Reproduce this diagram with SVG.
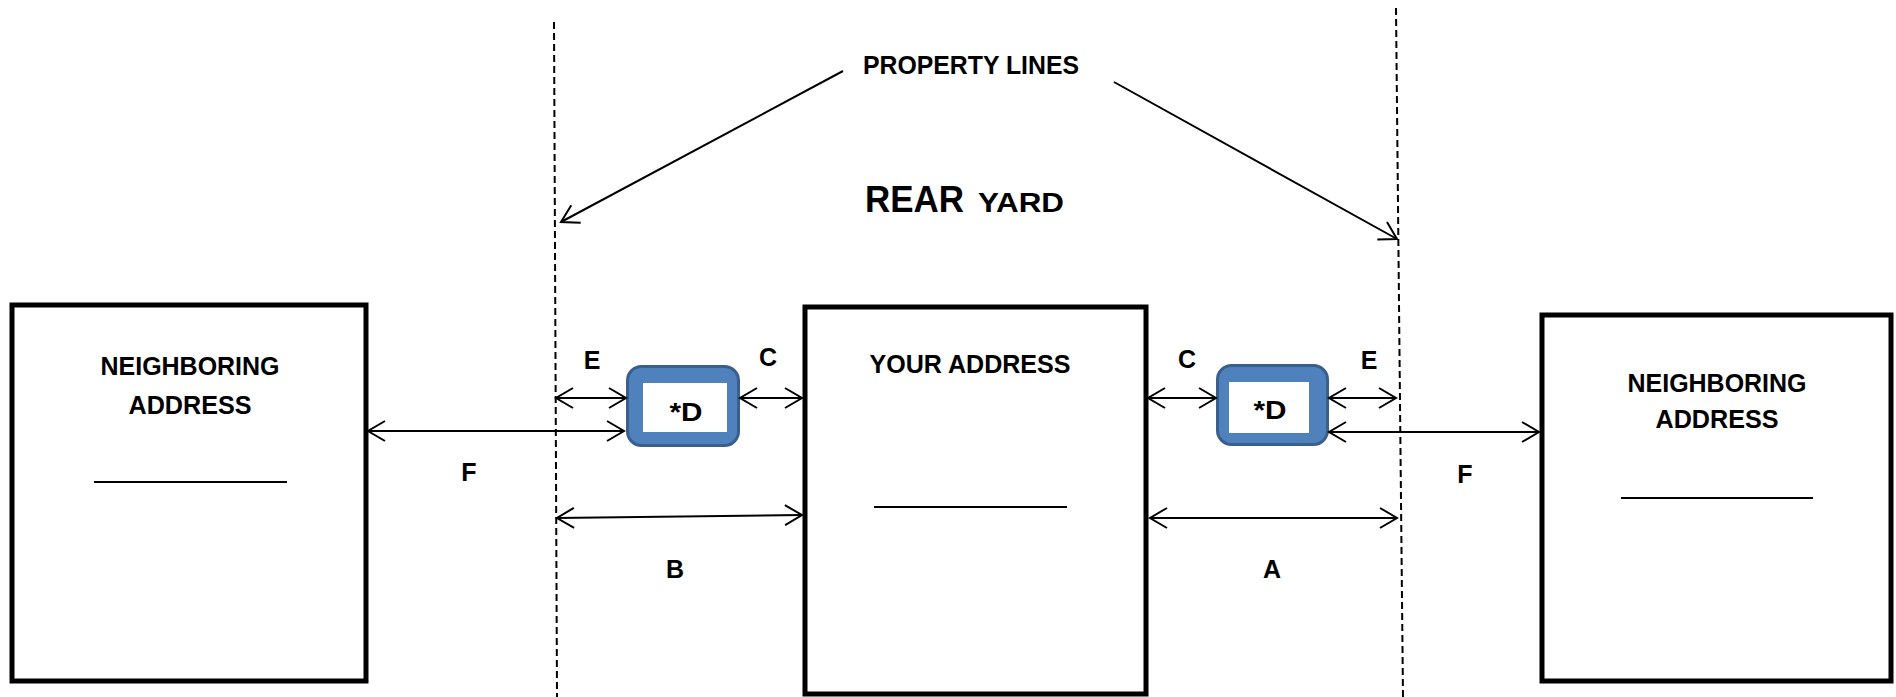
<svg xmlns="http://www.w3.org/2000/svg" width="1896" height="697" viewBox="0 0 1896 697">
<style>
  text { font-family: "Liberation Sans", Arial, sans-serif; font-weight: bold; fill: #000; }
  .lbl { font-size: 25px; text-anchor: middle; }
  .box { fill: #fff; stroke: #000; stroke-width: 5; }
  .ul { stroke: #000; stroke-width: 2; }
  .pl { stroke: #000; stroke-width: 2; stroke-dasharray: 7 4; fill: none; }
  .dim { stroke: #000; stroke-width: 2; fill: none; marker-start: url(#ah); marker-end: url(#ah); }
  .ptr { stroke: #000; stroke-width: 2; fill: none; marker-end: url(#ah); }
  .dout { fill: #4F81BD; stroke: #3A5F8D; stroke-width: 3; }
  .din { fill: #fff; }
</style>
<defs>
  <marker id="ah" markerUnits="userSpaceOnUse" markerWidth="24" markerHeight="24" viewBox="-20 -12 22 24" refX="0" refY="0" orient="auto-start-reverse">
    <path d="M-17,-10 L0,0 L-17,10" fill="none" stroke="#000" stroke-width="2"/>
  </marker>
</defs>
<rect width="1896" height="697" fill="#fff"/>

<g id="property-lines">
  <line class="pl" x1="554" y1="22" x2="557" y2="697"/>
  <line class="pl" x1="1396" y1="8" x2="1403" y2="697"/>
  <text class="lbl" x="971" y="74" textLength="216" lengthAdjust="spacingAndGlyphs">PROPERTY LINES</text>
</g>

<g id="rear-yard">
  <text x="865" y="212" style="font-size:37px" textLength="99" lengthAdjust="spacingAndGlyphs">REAR</text>
  <text x="978" y="212" style="font-size:27px" textLength="86" lengthAdjust="spacingAndGlyphs">YARD</text>
</g>

<g id="neighbor-left">
  <rect class="box" x="12" y="305" width="354" height="376"/>
  <text class="lbl" x="190" y="375" textLength="179" lengthAdjust="spacingAndGlyphs">NEIGHBORING</text>
  <text class="lbl" x="190" y="414" textLength="123" lengthAdjust="spacingAndGlyphs">ADDRESS</text>
  <line class="ul" x1="94" y1="482" x2="287" y2="482"/>
</g>

<g id="your-address">
  <rect class="box" x="805" y="307" width="341" height="387"/>
  <text class="lbl" x="970" y="373" textLength="201" lengthAdjust="spacingAndGlyphs">YOUR ADDRESS</text>
  <line class="ul" x1="874" y1="507" x2="1067" y2="507"/>
</g>

<g id="neighbor-right">
  <rect class="box" x="1542" y="315" width="349" height="366"/>
  <text class="lbl" x="1717" y="392" textLength="179" lengthAdjust="spacingAndGlyphs">NEIGHBORING</text>
  <text class="lbl" x="1717" y="428" textLength="123" lengthAdjust="spacingAndGlyphs">ADDRESS</text>
  <line class="ul" x1="1621" y1="498" x2="1813" y2="498"/>
</g>

<g id="d-left">
  <rect class="dout" x="627.5" y="366.5" width="111" height="79" rx="14"/>
  <rect class="din" x="643" y="383" width="84" height="49"/>
  <text class="lbl" x="686" y="421" textLength="33" lengthAdjust="spacingAndGlyphs">*D</text>
</g>

<g id="d-right">
  <rect class="dout" x="1217.5" y="365.5" width="110" height="79" rx="14"/>
  <rect class="din" x="1229" y="382" width="80" height="51"/>
  <text class="lbl" x="1270" y="419" textLength="33" lengthAdjust="spacingAndGlyphs">*D</text>
</g>

<g id="connectors">
  <line class="ptr" x1="843" y1="71" x2="561" y2="222"/>
  <line class="ptr" x1="1114" y1="82" x2="1397" y2="239"/>
  <line class="dim" x1="556" y1="398" x2="626" y2="398"/>
  <line class="dim" x1="740" y1="398" x2="802" y2="398"/>
  <line class="dim" x1="368" y1="431" x2="624" y2="431"/>
  <line class="dim" x1="557" y1="518" x2="802" y2="515"/>
  <line class="dim" x1="1148" y1="398" x2="1216" y2="398"/>
  <line class="dim" x1="1329" y1="398" x2="1396" y2="398"/>
  <line class="dim" x1="1329" y1="432" x2="1539" y2="432"/>
  <line class="dim" x1="1150" y1="518" x2="1397" y2="518"/>
</g>

<g id="dimension-labels">
  <text class="lbl" x="592" y="369">E</text>
  <text class="lbl" x="768" y="366">C</text>
  <text class="lbl" x="1187" y="368">C</text>
  <text class="lbl" x="1369" y="369">E</text>
  <text class="lbl" x="469" y="481">F</text>
  <text class="lbl" x="1465" y="483">F</text>
  <text class="lbl" x="675" y="578">B</text>
  <text class="lbl" x="1272" y="578">A</text>
</g>
</svg>
